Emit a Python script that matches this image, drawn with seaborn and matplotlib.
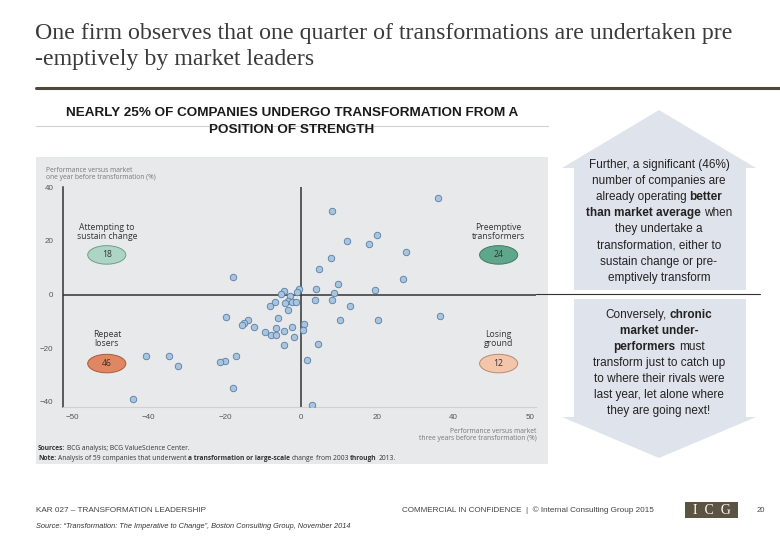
import matplotlib
matplotlib.use("Agg")
import matplotlib.pyplot as plt
import seaborn as sns
import pandas as pd
from matplotlib.patches import Ellipse, Polygon, Rectangle
from matplotlib.lines import Line2D

# ---------------- data ----------------
x_three_years = [35.8, 8.0, 19.8, 11.9, 17.9, 27.6, 7.8, 4.8, -18.0, 26.7,
                 9.7, 19.3, 3.8, -0.5, -1.0, -4.6, -5.2, 8.7, -2.9, 8.2,
                 3.6, -3.5, -2.4, -1.3, -6.8, -8.1, 12.8, -3.4, -19.7, 36.4,
                 -6.1, 10.2, 20.1, -14.0, -15.1, -15.5, -12.3, 0.8, -6.6, -2.4,
                 0.4, -4.5, -9.6, -7.9, -6.7, -1.9, 4.4, -4.5, -40.6, -34.8,
                 -17.0, -32.2, -20.1, -21.4, 1.5, -18.0, -44.1, 2.9, -4.2]
y_one_year = [35.9, 31.0, 22.2, 20.1, 18.9, 15.8, 13.7, 9.6, 6.4, 5.7,
              4.0, 1.6, 2.1, 2.0, 0.9, 1.4, 0.4, 0.5, -0.5, -1.9,
              -2.0, -2.5, -2.6, -2.8, -2.8, -4.1, -4.3, -5.9, -8.5, -8.0,
              -8.8, -9.3, -9.5, -9.3, -10.5, -11.5, -11.9, -10.9, -12.5, -12.1,
              -13.1, -13.6, -14.1, -14.9, -15.2, -15.9, -18.3, -18.8, -22.9, -22.8,
              -23.0, -26.7, -24.6, -25.3, -24.2, -34.8, -39.0, -41.1, -3.0]

quadrant_names = ["Attempting to\nsustain change", "Preemptive\ntransformers",
                  "Repeat\nlosers", "Losing\nground"]
quadrant_counts = [18, 24, 46, 12]
quadrant_fill = ["#acd5c4", "#5fa78b", "#df8662", "#f4c4ab"]
quadrant_edge = ["#6e9e8c", "#3f7a64", "#a85a3c", "#b88a70"]

x_ticks = [-60, -40, -20, 0, 20, 40, 60]
x_tick_labels = ["\u221250", "\u221240", "\u221220", "0", "20", "40", "50"]
y_ticks = [40, 20, 0, -20, -40]
y_tick_labels = ["40", "20", "0", "\u221220", "\u221240"]

title_lines = ["One firm observes that one quarter of transformations are undertaken pre",
               "-emptively by market leaders"]
subtitle_lines = ["NEARLY 25% OF COMPANIES UNDERGO TRANSFORMATION FROM A",
                  "POSITION OF STRENGTH"]

up_text = [[("Further, a significant (46%)", "normal")],
           [("number of companies are", "normal")],
           [("already operating", "normal"), ("better", "bold")],
           [("than market average", "bold"), ("when", "normal")],
           [("they undertake a", "normal")],
           [("transformation, either to", "normal")],
           [("sustain change or pre-", "normal")],
           [("emptively transform", "normal")]]
down_text = [[("Conversely,", "normal"), ("chronic", "bold")],
             [("market under-", "bold")],
             [("performers", "bold"), ("must", "normal")],
             [("transform just to catch up", "normal")],
             [("to where their rivals were", "normal")],
             [("last year, let alone where", "normal")],
             [("they are going next!", "normal")]]

df = pd.DataFrame({"three_years": x_three_years, "one_year": y_one_year})

# ---------------- figure ----------------
sns.set_theme(style="white")
plt.rcParams["font.family"] = ["Liberation Sans", "DejaVu Sans"]

W, H = 780, 540
fig = plt.figure(figsize=(7.8, 5.4), dpi=100)
fig.patch.set_facecolor("white")


def fx(x):
    return x / W


def fy(y):
    return 1 - y / H


# title
fig.text(fx(35), fy(39), title_lines[0], family="Liberation Serif", fontsize=17.2,
         color="#3a3a3a", va="baseline")
fig.text(fx(35), fy(65), title_lines[1], family="Liberation Serif", fontsize=17.2,
         color="#3a3a3a", va="baseline")
fig.add_artist(Line2D([fx(36), fx(780)], [fy(88), fy(88)], color="#4d4a3c", lw=2.2))

# subtitle
fig.add_artist(Line2D([fx(36), fx(548)], [fy(126), fy(126)], color="#d0d0d0", lw=0.8))
fig.text(fx(292), fy(113), subtitle_lines[0], fontsize=9.7, fontweight="bold",
         color="#1a1a1a", ha="center", va="center")
fig.text(fx(292), fy(130), subtitle_lines[1], fontsize=9.7, fontweight="bold",
         color="#1a1a1a", ha="center", va="center")

# chart panel
fig.add_artist(Rectangle((fx(36), fy(464)), fx(548) - fx(36), fy(157) - fy(464),
                         transform=fig.transFigure, facecolor="#e8e9eb",
                         edgecolor="none", zorder=0))

ax = fig.add_axes([fx(63.3), fy(407.3), fx(536) - fx(63.3), fy(187.3) - fy(407.3)])
ax.patch.set_alpha(0)
sns.scatterplot(data=df, x="three_years", y="one_year", ax=ax, s=22,
                color="#a9c4df", edgecolor="#587da3", linewidth=0.6, zorder=4)
ax.set_xlim(-62.4, 61.6)
ax.set_ylim(-42, 39.5)
ax.axhline(0, color="#333333", lw=1.1, zorder=2)
ax.axvline(0, color="#333333", lw=1.1, zorder=2)
ax.set_xticks(x_ticks)
ax.set_xticklabels(x_tick_labels)
ax.set_yticks(y_ticks)
ax.set_yticklabels(y_tick_labels)
ax.tick_params(length=0, labelsize=5.8, colors="#555555")
ax.tick_params(axis="y", pad=7)
ax.tick_params(axis="x", pad=5)
ax.set_xlabel("")
ax.set_ylabel("")
for s in ["top", "right"]:
    ax.spines[s].set_visible(False)
ax.spines["left"].set_color("#333333")
ax.spines["left"].set_linewidth(1.1)
ax.spines["bottom"].set_color("#cfd0d2")
ax.spines["bottom"].set_linewidth(0.8)

qx = [-51.0, 51.8, -51.0, 51.8]
q_label_y = [23.3, 23.3, -16.4, -16.4]
q_ell_y = [14.8, 14.8, -25.7, -25.7]
for i in range(4):
    ax.text(qx[i], q_label_y[i], quadrant_names[i], ha="center", va="center",
            fontsize=6.2, color="#333333", linespacing=1.0, family="Open Sans")
    ax.add_patch(Ellipse((qx[i], q_ell_y[i]), width=10.0, height=6.9,
                         facecolor=quadrant_fill[i], edgecolor=quadrant_edge[i],
                         lw=0.7, zorder=3))
    ax.text(qx[i], q_ell_y[i], str(quadrant_counts[i]), ha="center", va="center",
            fontsize=6.2, color="#333333", zorder=5, family="Open Sans")

# axis captions
fig.text(fx(46), fy(167), "Performance versus market\none year before transformation (%)",
         fontsize=4.8, color="#777777", va="top", linespacing=1.0, family="Open Sans")
fig.text(fx(536.5), fy(428), "Performance versus market\nthree years before transformation (%)",
         fontsize=4.8, color="#777777", va="top", ha="right", linespacing=1.0,
         family="Open Sans", multialignment="right")

fig.canvas.draw()
r = fig.canvas.get_renderer()


def space_width(size, family):
    probe = fig.text(0, 0, "a a", fontsize=size, family=family)
    probe2 = fig.text(0, 0, "aa", fontsize=size, family=family)
    space = probe.get_window_extent(r).width - probe2.get_window_extent(r).width
    probe.remove()
    probe2.remove()
    return space


def seg_line(segments, cx, y_px, size, color="#222222", family="Liberation Sans"):
    space = space_width(size, family)
    texts, widths = [], []
    for s, w in segments:
        t = fig.text(0, 0, s, fontsize=size, fontweight=w, family=family,
                     color=color, va="center", ha="left")
        widths.append(t.get_window_extent(r).width)
        texts.append(t)
    total = sum(widths) + space * (len(texts) - 1)
    x = cx - total / 2
    for t, w in zip(texts, widths):
        t.set_position((fx(x), fy(y_px)))
        x += w + space


def seg_left(segments, x0, y_px, size, color="#333333", family="Open Sans"):
    space = space_width(size, family)
    x = x0
    for s, w in segments:
        t = fig.text(fx(x), fy(y_px), s, fontsize=size, fontweight=w, family=family,
                     color=color, va="center", ha="left")
        x += t.get_window_extent(r).width + space


# sources
seg_left([("Sources:", "bold"), ("BCG analysis; BCG ValueScience Center.", "normal")], 38, 449, 4.8)
seg_left([("Note:", "bold"), ("Analysis of 59 companies that underwent", "normal"),
          ("a transformation or large-scale", "bold"), ("change", "normal"),
          ("from 2003", "normal"), ("through", "bold"), ("2013.", "normal")], 38, 458, 4.8)

# right-hand arrows
up_poly = [(659, 110), (756, 168), (746, 168), (746, 290), (574, 290), (574, 168), (562, 168)]
down_poly = [(574, 299), (746, 299), (746, 417), (756, 417), (659, 458), (562, 417), (574, 417)]
for poly in (up_poly, down_poly):
    fig.add_artist(Polygon([(fx(a), fy(b)) for a, b in poly], closed=True,
                           transform=fig.transFigure, facecolor="#dfe4ec",
                           edgecolor="none", zorder=0))
fig.add_artist(Line2D([fx(536), fx(760)], [fy(294), fy(294)], color="#333333", lw=0.8))

for i, line in enumerate(up_text):
    seg_line(line, 659, 165 + i * 16.1, 8.5)
for i, line in enumerate(down_text):
    seg_line(line, 659, 315 + i * 16.0, 8.5)

# footer
fig.text(fx(36), fy(510), "KAR 027 \u2013 TRANSFORMATION LEADERSHIP", fontsize=5.9,
         color="#444444", va="center")
fig.text(fx(402), fy(510), "COMMERCIAL IN CONFIDENCE  |  \u00a9 Internal Consulting Group 2015",
         fontsize=5.9, color="#444444", va="center")
fig.add_artist(Rectangle((fx(685), fy(518)), fx(738) - fx(685), fy(502) - fy(518),
                         transform=fig.transFigure, facecolor="#5b5443", edgecolor="none"))
fig.text(fx(711.5), fy(510), "I  C  G", family="Liberation Serif", fontsize=10,
         color="white", ha="center", va="center")
fig.text(fx(757), fy(511), "20", fontsize=5.5, color="#444444", va="center")
fig.text(fx(36), fy(527),
         "Source: \u201cTransformation: The Imperative to Change\u201d, Boston Consulting Group, November 2014",
         fontsize=5.35, style="italic", color="#333333", va="center")

fig.savefig("out.png", dpi=100)
